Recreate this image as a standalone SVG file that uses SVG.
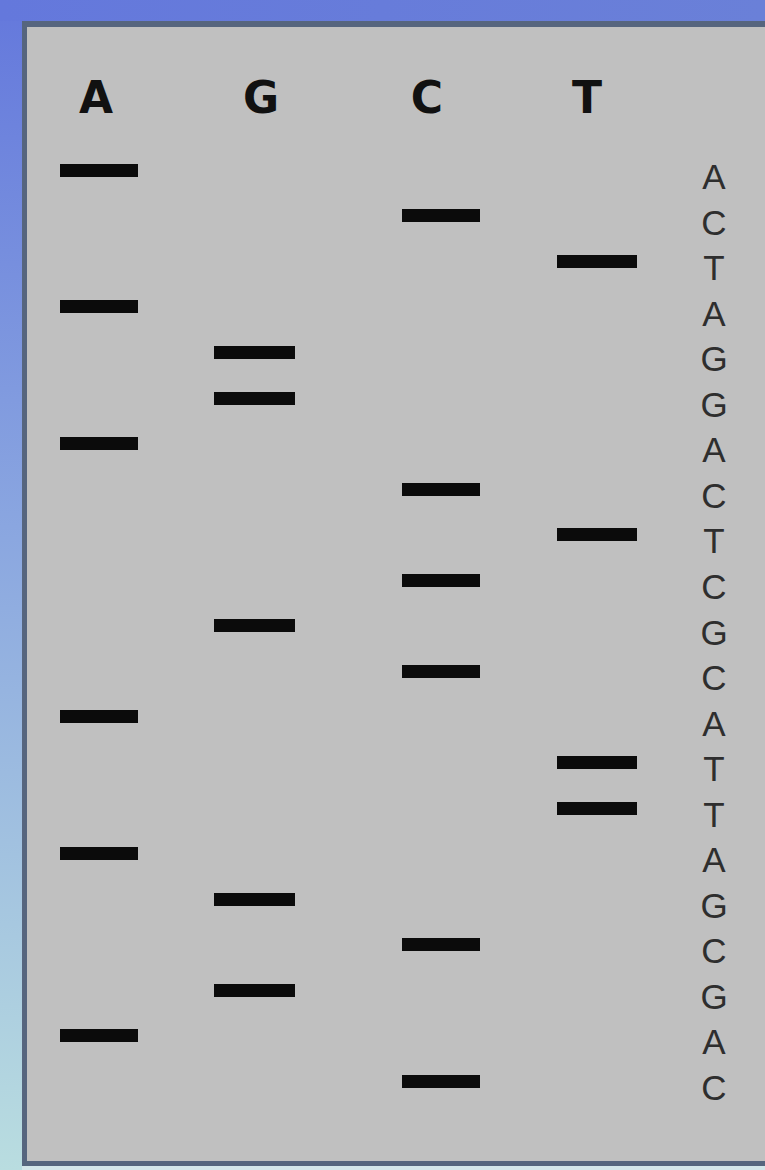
<svg xmlns="http://www.w3.org/2000/svg" width="765" height="1170" viewBox="0 0 765 1170">
<defs>
<linearGradient id="side" x1="0" y1="0" x2="0" y2="1">
<stop offset="0" stop-color="#6478dc"/>
<stop offset="0.45" stop-color="#8aa6e0"/>
<stop offset="1" stop-color="#b9dde0"/>
</linearGradient>
<linearGradient id="top" x1="0" y1="0" x2="1" y2="0">
<stop offset="0" stop-color="#6478dc"/>
<stop offset="1" stop-color="#6a80d8"/>
</linearGradient>
</defs>
<style>
.band{fill:#0b0b0b}
.hdr{font-family:"DejaVu Sans","Liberation Sans",Arial,sans-serif;font-weight:bold;font-size:44px;fill:#111;text-anchor:middle}
.seq{font-family:"Liberation Sans",Arial,sans-serif;font-weight:normal;font-size:35px;fill:#2e2e2e;text-anchor:middle}
</style>
<g id="frame">
<rect x="0" y="0" width="765" height="1170" fill="url(#side)"/>
<rect x="0" y="0" width="765" height="21" fill="url(#top)"/>
<rect x="22" y="21" width="743" height="1149" fill="#d4e6ea"/>
<rect x="22" y="21" width="743" height="1145" fill="#56657e"/>
<rect x="27" y="27" width="738" height="1134" fill="#c0c0c0"/>
</g>
<g id="headers">
<text class="hdr" x="96" y="113">A</text>
<text class="hdr" x="261" y="113">G</text>
<text class="hdr" x="427" y="113">C</text>
<text class="hdr" x="587" y="113">T</text>
</g>
<g id="lane-A">
<rect class="band" x="60" y="164" width="78" height="13"/>
<rect class="band" x="60" y="300" width="78" height="13"/>
<rect class="band" x="60" y="437" width="78" height="13"/>
<rect class="band" x="60" y="710" width="78" height="13"/>
<rect class="band" x="60" y="847" width="78" height="13"/>
<rect class="band" x="60" y="1029" width="78" height="13"/>
</g>
<g id="lane-G">
<rect class="band" x="214" y="346" width="81" height="13"/>
<rect class="band" x="214" y="392" width="81" height="13"/>
<rect class="band" x="214" y="619" width="81" height="13"/>
<rect class="band" x="214" y="893" width="81" height="13"/>
<rect class="band" x="214" y="984" width="81" height="13"/>
</g>
<g id="lane-C">
<rect class="band" x="402" y="209" width="78" height="13"/>
<rect class="band" x="402" y="483" width="78" height="13"/>
<rect class="band" x="402" y="574" width="78" height="13"/>
<rect class="band" x="402" y="665" width="78" height="13"/>
<rect class="band" x="402" y="938" width="78" height="13"/>
<rect class="band" x="402" y="1075" width="78" height="13"/>
</g>
<g id="lane-T">
<rect class="band" x="557" y="255" width="80" height="13"/>
<rect class="band" x="557" y="528" width="80" height="13"/>
<rect class="band" x="557" y="756" width="80" height="13"/>
<rect class="band" x="557" y="802" width="80" height="13"/>
</g>
<g id="sequence">
<text class="seq" x="714" y="189">A</text>
<text class="seq" x="714" y="235">C</text>
<text class="seq" x="714" y="280">T</text>
<text class="seq" x="714" y="326">A</text>
<text class="seq" x="714" y="371">G</text>
<text class="seq" x="714" y="417">G</text>
<text class="seq" x="714" y="462">A</text>
<text class="seq" x="714" y="508">C</text>
<text class="seq" x="714" y="553">T</text>
<text class="seq" x="714" y="599">C</text>
<text class="seq" x="714" y="645">G</text>
<text class="seq" x="714" y="690">C</text>
<text class="seq" x="714" y="736">A</text>
<text class="seq" x="714" y="781">T</text>
<text class="seq" x="714" y="827">T</text>
<text class="seq" x="714" y="872">A</text>
<text class="seq" x="714" y="918">G</text>
<text class="seq" x="714" y="963">C</text>
<text class="seq" x="714" y="1009">G</text>
<text class="seq" x="714" y="1054">A</text>
<text class="seq" x="714" y="1100">C</text>
</g>
</svg>
